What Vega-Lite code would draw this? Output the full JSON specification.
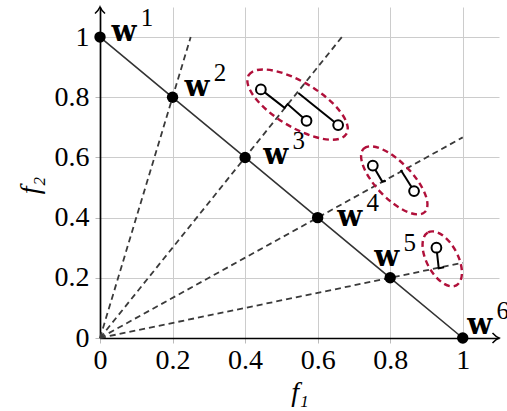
{
  "$schema": "https://vega.github.io/schema/vega-lite/v6.json",
  "width": 399,
  "height": 331,
  "autosize": "none",
  "padding": {"left": 100, "top": 7, "right": 8, "bottom": 73},
  "background": "white",
  "config": {"view": {"stroke": null}},
  "datasets": {
    "rays": [
      {"ray": "w2", "x": 0, "y": 0}, {"ray": "w2", "x": 0.25, "y": 1},
      {"ray": "w3", "x": 0, "y": 0}, {"ray": "w3", "x": 0.6667, "y": 1},
      {"ray": "w4", "x": 0, "y": 0}, {"ray": "w4", "x": 1, "y": 0.6667},
      {"ray": "w5", "x": 0, "y": 0}, {"ray": "w5", "x": 1, "y": 0.25}
    ],
    "weights": [
      {"n": "1", "x": 0, "y": 1, "lx": 0.0661, "ly": 1.0133},
      {"n": "2", "x": 0.2, "y": 0.8, "lx": 0.2672, "ly": 0.8306},
      {"n": "3", "x": 0.4, "y": 0.6, "lx": 0.4843, "ly": 0.6047},
      {"n": "4", "x": 0.6, "y": 0.4, "lx": 0.6887, "ly": 0.4003},
      {"n": "5", "x": 0.8, "y": 0.2, "lx": 0.7906, "ly": 0.2658},
      {"n": "6", "x": 1, "y": 0, "lx": 1.0468, "ly": 0.0399}
    ],
    "sticks": [
      {"g": "a", "o": 1, "x": 0.4435, "y": 0.8262},
      {"g": "a", "o": 2, "x": 0.5088, "y": 0.7651},
      {"g": "a", "o": 3, "x": 0.5171, "y": 0.7774},
      {"g": "a", "o": 4, "x": 0.5694, "y": 0.7219},
      {"g": "b", "o": 1, "x": 0.5468, "y": 0.8140},
      {"g": "b", "o": 2, "x": 0.6565, "y": 0.7076},
      {"g": "c", "o": 1, "x": 0.7521, "y": 0.5731},
      {"g": "c", "o": 2, "x": 0.7782, "y": 0.5199},
      {"g": "c", "o": 3, "x": 0.7879, "y": 0.5216},
      {"g": "d", "o": 1, "x": 0.8292, "y": 0.5581},
      {"g": "d", "o": 2, "x": 0.8658, "y": 0.4884},
      {"g": "e", "o": 1, "x": 0.9275, "y": 0.3000},
      {"g": "e", "o": 2, "x": 0.9339, "y": 0.2316},
      {"g": "e", "o": 3, "x": 0.9485, "y": 0.2349}
    ],
    "pins": [
      {"x": 0.4435, "y": 0.8262},
      {"x": 0.5694, "y": 0.7219},
      {"x": 0.6565, "y": 0.7076},
      {"x": 0.7521, "y": 0.5731},
      {"x": 0.8658, "y": 0.4884},
      {"x": 0.9275, "y": 0.3000}
    ],
    "ellipses": [
      {"id": 1, "x": 0.5446, "y": 0.7757},
      {"id": 2, "x": 0.8113, "y": 0.5239},
      {"id": 3, "x": 0.9435, "y": 0.2631}
    ],
    "arrows": [
      {"dir": "right", "x": 1.1, "y": 0},
      {"dir": "up", "x": 0, "y": 1.1}
    ]
  },
  "encoding": {
    "x": {
      "field": "x", "type": "quantitative",
      "scale": {"domain": [0, 1.1], "nice": false, "zero": false},
      "axis": {
        "values": [0, 0.2, 0.4, 0.6, 0.8, 1], "format": "~g",
        "grid": true, "gridColor": "#cccccc", "gridWidth": 1,
        "domainColor": "black", "domainWidth": 1.7,
        "tickColor": "#bbbbbb", "tickSize": 5, "tickWidth": 1,
        "labelFont": "Liberation Serif", "labelFontSize": 28, "labelColor": "black",
        "labelPadding": 3, "labelFlush": false, "labelOverlap": false,
        "title": "f₁", "titleFont": "Liberation Serif", "titleFontStyle": "italic",
        "titleFontWeight": "normal", "titleFontSize": 28, "titleColor": "black", "titlePadding": 4
      }
    },
    "y": {
      "field": "y", "type": "quantitative",
      "scale": {"domain": [0, 1.1], "nice": false, "zero": false},
      "axis": {
        "values": [0, 0.2, 0.4, 0.6, 0.8, 1], "format": "~g",
        "grid": true, "gridColor": "#cccccc", "gridWidth": 1,
        "domainColor": "black", "domainWidth": 1.7,
        "tickColor": "#bbbbbb", "tickSize": 5, "tickWidth": 1,
        "labelFont": "Liberation Serif", "labelFontSize": 28, "labelColor": "black",
        "labelPadding": 6, "labelFlush": false, "labelOverlap": false,
        "title": "f₂", "titleFont": "Liberation Serif", "titleFontStyle": "italic",
        "titleFontWeight": "normal", "titleFontSize": 28, "titleColor": "black",
        "titlePadding": 10, "titleY": 178
      }
    }
  },
  "layer": [
    {
      "data": {"name": "rays"},
      "mark": {"type": "line", "color": "#3a3a3a", "strokeWidth": 1.8, "strokeDash": [6, 4]},
      "encoding": {"detail": {"field": "ray"}}
    },
    {
      "data": {"name": "weights"},
      "mark": {"type": "line", "color": "#333333", "strokeWidth": 1.6}
    },
    {
      "data": {"name": "ellipses"},
      "transform": [{"filter": "datum.id == 1"}],
      "mark": {"type": "point", "filled": false, "color": "#b0103a", "strokeWidth": 2.4, "strokeDash": [6, 4], "opacity": 1,
        "size": 12996, "angle": 31,
        "shape": "M -1 0 C -1 -0.2182 -0.5523 -0.395 0 -0.395 C 0.5523 -0.395 1 -0.2182 1 0 C 1 0.2182 0.5523 0.395 0 0.395 C -0.5523 0.395 -1 0.2182 -1 0 Z"}
    },
    {
      "data": {"name": "ellipses"},
      "transform": [{"filter": "datum.id == 2"}],
      "mark": {"type": "point", "filled": false, "color": "#b0103a", "strokeWidth": 2.4, "strokeDash": [6, 4], "opacity": 1,
        "size": 7744, "angle": 46,
        "shape": "M -1 0 C -1 -0.2264 -0.5523 -0.41 0 -0.41 C 0.5523 -0.41 1 -0.2264 1 0 C 1 0.2264 0.5523 0.41 0 0.41 C -0.5523 0.41 -1 0.2264 -1 0 Z"}
    },
    {
      "data": {"name": "ellipses"},
      "transform": [{"filter": "datum.id == 3"}],
      "mark": {"type": "point", "filled": false, "color": "#b0103a", "strokeWidth": 2.4, "strokeDash": [6, 4], "opacity": 1,
        "size": 3600, "angle": 62,
        "shape": "M -1 0 C -1 -0.2872 -0.5523 -0.52 0 -0.52 C 0.5523 -0.52 1 -0.2872 1 0 C 1 0.2872 0.5523 0.52 0 0.52 C -0.5523 0.52 -1 0.2872 -1 0 Z"}
    },
    {
      "data": {"name": "sticks"},
      "mark": {"type": "line", "color": "black", "strokeWidth": 2},
      "encoding": {"detail": {"field": "g"}, "order": {"field": "o", "type": "quantitative"}}
    },
    {
      "data": {"name": "pins"},
      "mark": {"type": "point", "shape": "circle", "filled": true, "fill": "white", "fillOpacity": 1, "stroke": "black", "strokeWidth": 2, "size": 95, "opacity": 1}
    },
    {
      "data": {"name": "weights"},
      "mark": {"type": "point", "shape": "circle", "filled": true, "color": "black", "opacity": 1, "size": 130}
    },
    {
      "data": {"name": "weights"},
      "mark": {"type": "text", "font": "DejaVu Serif", "fontWeight": "bold", "fontSize": 29, "color": "black", "align": "center", "baseline": "middle", "dy": -1},
      "encoding": {
        "x": {"field": "lx", "type": "quantitative"},
        "y": {"field": "ly", "type": "quantitative"},
        "text": {"value": "w"}
      }
    },
    {
      "data": {"name": "weights"},
      "mark": {"type": "text", "font": "Liberation Serif", "fontSize": 25, "color": "black", "align": "center", "baseline": "middle", "dx": 23, "dy": -15},
      "encoding": {
        "x": {"field": "lx", "type": "quantitative"},
        "y": {"field": "ly", "type": "quantitative"},
        "text": {"field": "n"}
      }
    },
    {
      "data": {"name": "arrows"},
      "transform": [{"filter": "datum.dir == 'right'"}],
      "mark": {"type": "point", "filled": false, "color": "black", "strokeWidth": 1.5, "opacity": 1, "size": 100, "angle": 0,
        "shape": "M -1.3 -1 Q -0.6 -0.25 0 0 Q -0.6 0.25 -1.3 1"}
    },
    {
      "data": {"name": "arrows"},
      "transform": [{"filter": "datum.dir == 'up'"}],
      "mark": {"type": "point", "filled": false, "color": "black", "strokeWidth": 1.5, "opacity": 1, "size": 100, "angle": -90,
        "shape": "M -1.3 -1 Q -0.6 -0.25 0 0 Q -0.6 0.25 -1.3 1"}
    }
  ]
}
